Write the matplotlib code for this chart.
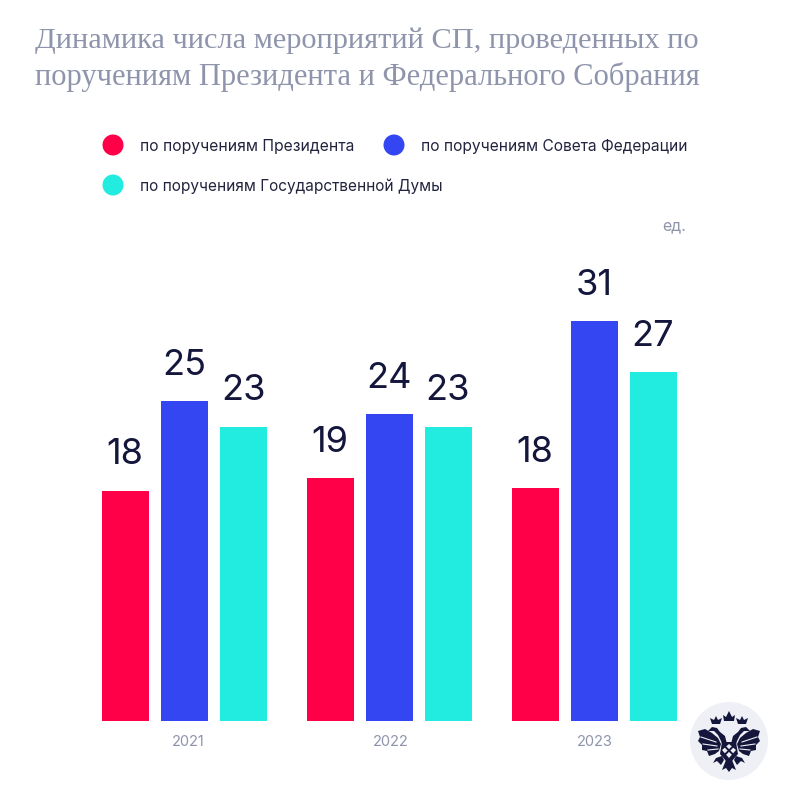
import matplotlib
matplotlib.use("Agg")
import matplotlib.pyplot as plt
from matplotlib.patches import Circle, Polygon

# Данные
anos = ["2021", "2022", "2023"]
presidente = [18, 19, 18]
sovet = [25, 24, 31]
duma = [23, 23, 27]
# высота столбцов (в 2023 они чуть выше подписи)
alturas_presidente = [18.0, 19.0, 18.2]
alturas_sovet = [25.0, 24.0, 31.25]
alturas_duma = [23.0, 23.0, 27.25]

ROJO = "#ff0048"
AZUL = "#3346f2"
TURQUESA = "#22ebe0"
GRIS = "#8e94ab"
OSCURO = "#14163c"
FONDO_EMBLEMA = "#eef0f6"

W, H = 807, 804
fig = plt.figure(figsize=(W / 100, H / 100), dpi=100, facecolor="white")

ax = fig.add_axes([0, 0, 1, 1])
ax.set_xlim(0, W)
ax.set_ylim(H, 0)
ax.axis("off")

# Título
ax.text(35, 41, "Динамика числа мероприятий СП, проведенных по", family="Liberation Serif",
        fontsize=21.9, color=GRIS, va="center")
ax.text(35, 77, "поручениям Президента и Федерального Собрания", family="Liberation Serif",
        fontsize=22, color=GRIS, va="center")

# Leyenda
leyenda = [(113, 146, ROJO, "по поручениям Президента", 11.3),
           (394, 146, AZUL, "по поручениям Совета Федерации", 11.2),
           (113, 186, TURQUESA, "по поручениям Государственной Думы", 11.1)]
for x, y, color, texto, tam in leyenda:
    ax.add_patch(Circle((x, y), 10.5, color=color, lw=0))
    ax.text(x + 27, y, texto, fontsize=tam, family="Inter", color="#22243f", va="center")

ax.text(674, 226, "ед.", fontsize=11.5, family="Inter", color=GRIS, va="center", ha="center")

# Barras
ax_bar = fig.add_axes([0, (H - 722) / H, 1, 400 / H])
ax_bar.set_xlim(0, W)
ax_bar.set_ylim(0, 400 / 12.8)
ax_bar.axis("off")

grupos = [102, 307, 512]
series = [(presidente, alturas_presidente, ROJO, 0),
          (sovet, alturas_sovet, AZUL, 59),
          (duma, alturas_duma, TURQUESA, 118)]
for valores, alturas, color, dx in series:
    for g, v, h in zip(grupos, valores, alturas):
        ax_bar.bar(g + dx, h, width=46.5, align="edge", color=color, lw=0)
        ax_bar.annotate(str(v), (g + dx + 23, h), xytext=(0, 14.5), textcoords="offset points",
                        ha="center", va="bottom", fontsize=26, family="Inter", color=OSCURO,
                        annotation_clip=False)

for x, ano in zip([188, 391, 595], anos):
    ax.text(x, 742, ano, fontsize=10.5, family="Inter", color=GRIS, ha="center", va="center")

# Emblema: орёл рисуется половинками, зеркально от центра
cx, cy = 729, 742
ax.add_patch(Circle((cx, cy), 39, color=FONDO_EMBLEMA, lw=0))
ala = [(-11, -3), (-17, -8), (-24, -12), (-31, -10), (-29, -4), (-31, 0), (-27, 4), (-27, 9),
       (-22, 10), (-20, 15), (-14, 13), (-10, 10), (-8, 3)]
cuello = [(-2, 3), (-4, -5), (-9, -9), (-12, -13), (-17, -14), (-21, -10), (-15, -10), (-11, -6),
          (-8, 0), (-7, 3)]
corona = [(-17, -17), (-19, -23), (-15, -21), (-13, -25), (-11, -21), (-7, -23), (-9, -17)]
pata = [(-7, 15), (-13, 17), (-16, 22), (-12, 20), (-8, 24), (-5, 19)]
for signo in (-1, 1):
    for forma in (ala, cuello, corona, pata):
        ax.add_patch(Polygon([(cx + signo * a, cy + b) for a, b in forma], color=OSCURO, lw=0))
    for x0, y0, x1, y1 in [(-13, 1, -28, -4), (-12, 5, -26, 3), (-11, 8, -21, 9)]:
        ax.plot([cx + signo * x0, cx + signo * x1], [cy + y0, cy + y1],
                color=FONDO_EMBLEMA, lw=0.8)
corona_central = [(-5, -20), (-6, -26), (-3, -24), (0, -30), (3, -24), (6, -26), (5, -20)]
cuerpo = [(-7, 1), (7, 1), (9, 13), (3, 20), (-3, 20), (-9, 13)]
cola = [(-3, 19), (3, 19), (7, 29), (3, 27), (0, 31), (-3, 27), (-7, 29)]
escudo = [(0, 3), (7, 9), (0, 17), (-7, 9)]
for forma in (corona_central, cuerpo, cola):
    ax.add_patch(Polygon([(cx + a, cy + b) for a, b in forma], color=OSCURO, lw=0))
ax.add_patch(Polygon([(cx + a, cy + b) for a, b in escudo], color=FONDO_EMBLEMA, lw=0))
ax.plot([cx - 3.5, cx + 3.5], [cy + 6, cy + 13], color=OSCURO, lw=1.4)
ax.plot([cx + 3.5, cx - 3.5], [cy + 6, cy + 13], color=OSCURO, lw=1.4)

fig.savefig("out.png", dpi=100)
